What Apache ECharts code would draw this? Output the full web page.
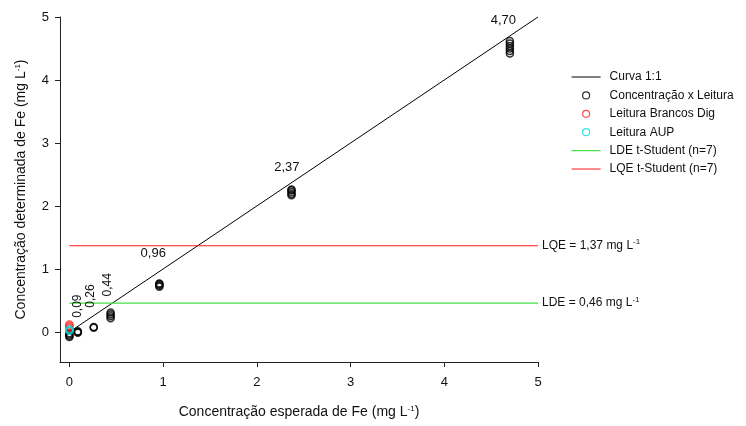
<!DOCTYPE html>
<html>
<head>
<meta charset="utf-8">
<script src="https://cdn.jsdelivr.net/npm/echarts@6/dist/echarts.min.js"></script>
<style>html,body{margin:0;padding:0;background:#fff}#c{width:746px;height:426px}</style>
</head>
<body>
<div id="c"></div>
<script>
const xTicks = [0, 1, 2, 3, 4, 5];
const yTicks = [0, 1, 2, 3, 4, 5];
const expected = [0, 0.09, 0.26, 0.44, 0.96, 2.37, 4.70];
const readings = [
  [-0.02, -0.04, -0.06, -0.08],
  [-0.01, 0.0, 0.01],
  [0.07, 0.08],
  [0.22, 0.25, 0.28, 0.31],
  [0.72, 0.74, 0.76, 0.77],
  [2.17, 2.19, 2.22, 2.25, 2.26],
  [4.42, 4.46, 4.50, 4.54, 4.58, 4.62]
];
const blankX = [0, 0, 0];
const blankY = [0.06, 0.09, 0.12];
const aupX = [0, 0];
const aupY = [0.02, 0.04];
const curveX = [0, 5];
const curveY = [0, 5];
const LDE = 0.46;
const LQE = 1.37;
const limitX = [0, 5];
const annotTexts = ['0,09', '0,26', '0,44', '0,96', '2,37', '4,70'];
const annotX = [0.085, 0.224, 0.405, 0.895, 2.32, 4.63];
const annotY = [0.41, 0.57, 0.75, 1.24, 2.62, 4.94];
const annotRot = [90, 90, 90, 0, 0, 0];

const FONT = 'Liberation Sans, Arial, sans-serif';
const sup = { fontSize: 8, fontFamily: FONT, color: '#111', verticalAlign: 'bottom', padding: [0, 0, 7, 0] };

const concData = [];
expected.forEach((x, i) => readings[i].forEach(y => concData.push([x, y])));

const hideSym = { opacity: 0 };

const chart = echarts.init(document.getElementById('c'), null, { renderer: 'canvas' });
chart.setOption({
  animation: false,
  backgroundColor: '#fff',
  textStyle: { fontFamily: FONT },
  grid: { left: 60, right: 208, top: 17, bottom: 64, containLabel: false },
  xAxis: {
    type: 'value', min: -0.1, max: 5,
    splitLine: { show: false },
    axisLine: { onZero: false, lineStyle: { color: '#222', width: 1 } },
    axisTick: { customValues: xTicks, length: 5, lineStyle: { color: '#222' } },
    axisLabel: { customValues: xTicks, fontSize: 13, color: '#111', margin: 14, fontFamily: FONT },
    name: 'Concentração esperada de Fe (mg L{sup|-1})',
    nameLocation: 'middle', nameGap: 43,
    nameTextStyle: { fontSize: 14, color: '#111', fontFamily: FONT, rich: { sup } }
  },
  yAxis: {
    type: 'value', min: -0.476, max: 5,
    splitLine: { show: false },
    axisLine: { onZero: false, lineStyle: { color: '#222', width: 1 } },
    axisTick: { customValues: yTicks, length: 5, lineStyle: { color: '#222' } },
    axisLabel: { customValues: yTicks, fontSize: 13, color: '#111', margin: 11, fontFamily: FONT },
    name: 'Concentração determinada de Fe (mg L{sup|-1})',
    nameLocation: 'middle', nameGap: 31, nameRotate: 90,
    nameTextStyle: { fontSize: 14, color: '#111', fontFamily: FONT, rich: { sup } }
  },
  legend: {
    orient: 'vertical', left: 571, top: 70, padding: 0,
    itemWidth: 29, itemHeight: 7, itemGap: 4.4,
    textStyle: { fontSize: 12, color: '#111', fontFamily: FONT, lineHeight: 14, padding: [0, 0, 0, 4] },
    data: [
      { name: 'Curva 1:1', itemStyle: hideSym, lineStyle: { width: 1 } },
      { name: 'Concentração x Leitura', icon: 'circle', itemStyle: { color: 'transparent', borderColor: '#000', borderWidth: 1.2 } },
      { name: 'Leitura Brancos Dig', icon: 'circle', itemStyle: { color: 'transparent', borderColor: '#ff2020', borderWidth: 1.2 } },
      { name: 'Leitura AUP', icon: 'circle', itemStyle: { color: 'transparent', borderColor: '#00e0e0', borderWidth: 1.2 } },
      { name: 'LDE t-Student (n=7)', itemStyle: hideSym, lineStyle: { width: 1.2 } },
      { name: 'LQE t-Student (n=7)', itemStyle: hideSym, lineStyle: { width: 1 } }
    ]
  },
  series: [
    {
      name: 'Curva 1:1', type: 'line', symbol: 'none',
      data: curveX.map((x, i) => [x, curveY[i]]),
      lineStyle: { color: '#000', width: 1 }, z: 2
    },
    {
      name: 'LDE t-Student (n=7)', type: 'line', symbol: 'none',
      data: limitX.map(x => [x, LDE]),
      lineStyle: { color: '#44e044', width: 1.3 }, z: 2,
      endLabel: { show: true, distance: 4, fontSize: 12, color: '#111', fontFamily: FONT,
        formatter: 'LDE = 0,46 mg L{sup|-1}', rich: { sup } }
    },
    {
      name: 'LQE t-Student (n=7)', type: 'line', symbol: 'none',
      data: limitX.map(x => [x, LQE]),
      lineStyle: { color: '#ff1a1a', width: 1.1 }, z: 2,
      endLabel: { show: true, distance: 4, fontSize: 12, color: '#111', fontFamily: FONT,
        formatter: 'LQE = 1,37 mg L{sup|-1}', rich: { sup } }
    },
    {
      name: 'Concentração x Leitura', type: 'scatter', symbol: 'circle', symbolSize: 7,
      data: concData,
      itemStyle: { color: 'transparent', borderColor: '#000', borderWidth: 1.6 }, z: 3
    },
    {
      name: 'Leitura Brancos Dig', type: 'scatter', symbol: 'circle', symbolSize: 7,
      data: blankX.map((x, i) => [x, blankY[i]]),
      itemStyle: { color: 'transparent', borderColor: '#ff2020', borderWidth: 1.6 }, z: 4
    },
    {
      name: 'Leitura AUP', type: 'scatter', symbol: 'circle', symbolSize: 7,
      data: aupX.map((x, i) => [x, aupY[i]]),
      itemStyle: { color: 'transparent', borderColor: '#00dada', borderWidth: 1.6 }, z: 5
    },
    {
      name: 'annot', type: 'scatter', symbolSize: 0, silent: true, z: 6,
      itemStyle: { color: '#000' },
      data: annotTexts.map((t, i) => ({
        value: [annotX[i], annotY[i]], name: t,
        label: { rotate: annotRot[i], fontSize: annotRot[i] ? 12 : 13 }
      })),
      label: { show: true, position: 'inside', formatter: p => p.name, color: '#111', textBorderWidth: 0, textBorderColor: 'transparent', opacity: 1, fontFamily: FONT, align: 'center', verticalAlign: 'middle' }
    }
  ]
});
</script>
</body>
</html>
